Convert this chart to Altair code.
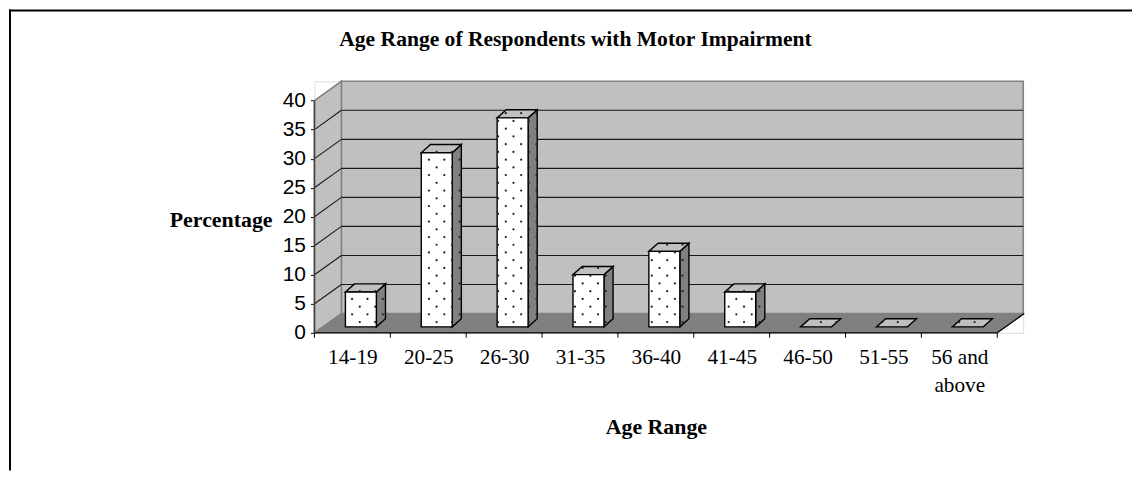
import json
import altair as alt
import pandas as pd

# ---- chart values
chart_title = "Age Range of Respondents with Motor Impairment"
categories = ["14-19", "20-25", "26-30", "31-35", "36-40", "41-45", "46-50", "51-55", "56 and|above"]
percentages = [6, 30, 36, 9, 13, 6, 0, 0, 0]
y_ticks = [0, 5, 10, 15, 20, 25, 30, 35, 40]

# ---- pseudo 3D geometry, in data units (1 x unit = one category, 1 y unit = 1 %)
X_MAX, Y_TOP = 9.342, 43.33
WALL_DX, WALL_DY = 0.355, 3.33
BAR_L, BAR_R, BAR_B = 0.408, 0.816, 1.03
BAR_DX, BAR_DY = 0.12, 1.4
PAT_X, PAT_Y = 0.2026, 2.665
PAT_X0, PAT_Y0 = 0.496, 5.846

W, H = 710, 252
FONT_S = "Liberation Serif"
FONT_A = "Liberation Sans"

xs = alt.Scale(domain=[0, X_MAX], nice=False, zero=False)
ys = alt.Scale(domain=[0, Y_TOP], nice=False, zero=False)
labels_js = json.dumps(categories)
x_axis = alt.Axis(
    values=[k + 0.5 for k in range(len(categories))],
    labelExpr=f"split({labels_js}[floor(datum.value)], '|')",
    domain=False, ticks=False, grid=False, labelOverlap=False, labelFlush=False,
    labelPadding=14, labelFont=FONT_S, labelFontSize=21.3, labelColor="black",
    labelLineHeight=28, labelBaseline="top",
    titleFont=FONT_S, titleFontSize=21.9, titleFontWeight="bold", titleColor="black",
    titleX=342, titleY=94, titleAnchor="middle", titleBaseline="middle",
)
y_axis = alt.Axis(
    values=y_ticks, domain=False, grid=False, tickSize=4, tickColor="black",
    tickWidth=1, labelPadding=5, labelFont=FONT_A, labelFontSize=21, labelColor="black",
    titleFont=FONT_S, titleFontSize=21.9, titleFontWeight="bold", titleColor="black",
    titleAngle=0, titleX=-42.5, titleY=138, titleAlign="right", titleBaseline="middle",
)
X = alt.X("x:Q", scale=xs, axis=x_axis, title="Age Range")
Y = alt.Y("y:Q", scale=ys, axis=y_axis, title="Percentage", stack=None)
X2 = alt.X2("x2:Q")
Y2 = alt.Y2("y2:Q")

# ---- tables for the faces
front, side, top = [], [], []
dots_front, dots_side, dots_top = [], [], []
grid_pts = []
n_c = int(X_MAX / PAT_X) + 3
n_r = int(Y_TOP / (PAT_Y / 2)) + 3
for j in range(-4, n_r):
    for i in range(-4, n_c):
        shift = PAT_X / 2 if j % 2 else 0
        grid_pts.append((PAT_X0 + i * PAT_X + shift, PAT_Y0 + (j - 2) * PAT_Y / 2))

for k, v in enumerate(percentages):
    l, r, b, t = k + BAR_L, k + BAR_R, BAR_B, BAR_B + v
    if v > 0:
        front.append(dict(x=l, x2=r, y=b, y2=t))
        side += [dict(b=k, x=r, y=t, y2=b), dict(b=k, x=r + BAR_DX, y=t + BAR_DY, y2=b + BAR_DY)]
    top += [dict(b=k, y=t, x=l, x2=r), dict(b=k, y=t + BAR_DY, x=l + BAR_DX, x2=r + BAR_DX)]
    for px, py in grid_pts:
        if v > 0 and l < px < r and b < py < t:
            dots_front.append(dict(x=px, y=py))
        if v > 0 and r < px < r + BAR_DX:
            f = (px - r) / BAR_DX * BAR_DY
            if b + f < py < t + f:
                dots_side.append(dict(x=px, y=py))
        if t < py < t + BAR_DY:
            f = (py - t) / BAR_DY * BAR_DX
            if l + f < px < r + f:
                dots_top.append(dict(x=px, y=py))

# ---- walls and floor
back_wall = (
    alt.Chart(pd.DataFrame([dict(x=WALL_DX, x2=X_MAX, y=WALL_DY, y2=Y_TOP)]))
    .mark_rect(fill="#c0c0c0", stroke="#808080", strokeWidth=1.5)
    .encode(x=X, x2=X2, y=Y, y2=Y2)
)
left_wall = (
    alt.Chart(pd.DataFrame([dict(x=0, y=40, y2=0), dict(x=WALL_DX, y=40 + WALL_DY, y2=WALL_DY)]))
    .mark_area(orient="vertical", fill="#c0c0c0", stroke="#808080", strokeWidth=1.5)
    .encode(x=X, y=Y, y2=Y2)
)
floor = (
    alt.Chart(pd.DataFrame([dict(y=0, x=0, x2=9), dict(y=WALL_DY, x=WALL_DX, x2=9 + WALL_DX)]))
    .mark_area(orient="horizontal", fill="#808080", stroke="#808080", strokeWidth=1)
    .encode(x=X, x2=X2, y=Y)
)
back_lines = (
    alt.Chart(pd.DataFrame([dict(x=WALL_DX, x2=X_MAX, y=v + WALL_DY) for v in y_ticks[1:-1]]))
    .mark_rule(color="#1a1a1a", strokeWidth=1.1)
    .encode(x=X, x2=X2, y=Y)
)
diag_rows = []
for v in y_ticks[1:-1]:
    diag_rows += [dict(g=v, x=0, y=v), dict(g=v, x=WALL_DX, y=v + WALL_DY)]
left_lines = (
    alt.Chart(pd.DataFrame(diag_rows))
    .mark_line(color="#1a1a1a", strokeWidth=1.1)
    .encode(x=X, y=Y, detail="g:N")
)
right_edge = (
    alt.Chart(pd.DataFrame([dict(x=9, y=0), dict(x=9 + WALL_DX, y=WALL_DY)]))
    .mark_line(color="black", strokeWidth=1.3)
    .encode(x=X, y=Y)
)
y_line = (
    alt.Chart(pd.DataFrame([dict(x=0, y=0, y2=40)]))
    .mark_rule(color="#404040", strokeWidth=1.5)
    .encode(x=X, y=Y, y2=Y2)
)
x_line = (
    alt.Chart(pd.DataFrame([dict(x=0, x2=9, y=0)]))
    .mark_rule(color="#202020", strokeWidth=1.5)
    .encode(x=X, x2=X2, y=Y)
)
x_ticks = (
    alt.Chart(pd.DataFrame(dict(x=list(range(len(categories) + 1)))))
    .mark_rule(color="black", strokeWidth=1)
    .encode(x=X, y=alt.value(H), y2=alt.value(H + 5))
)

# ---- bars
edge = dict(stroke="black", strokeWidth=1.4)
side_faces = (
    alt.Chart(pd.DataFrame(side))
    .mark_area(orient="vertical", fill="#808080", **edge)
    .encode(x=X, y=Y, y2=Y2, detail="b:N")
)
top_faces = (
    alt.Chart(pd.DataFrame(top))
    .mark_area(orient="horizontal", fill="#c0c0c0", **edge)
    .encode(x=X, x2=X2, y=Y, detail="b:N")
)
front_faces = (
    alt.Chart(pd.DataFrame(front))
    .mark_rect(fill="white", **edge)
    .encode(x=X, x2=X2, y=Y, y2=Y2)
)
def dots(rows):
    return (
        alt.Chart(pd.DataFrame(rows))
        .mark_point(filled=True, color="#222222", size=5, opacity=1)
        .encode(x=X, y=Y)
    )

# ---- title and the frame round the picture (the frame also fixes the page bounds)
title_layer = alt.Chart(pd.DataFrame(dict(t=[chart_title]))).mark_text(
    font=FONT_S, fontSize=21.6, fontWeight="bold", color="black", align="center", baseline="middle"
).encode(x=alt.value(261.5), y=alt.value(-41), text="t:N")
frame_top = alt.Chart(pd.DataFrame(dict(a=[0]))).mark_rule(color="black", strokeWidth=2).encode(
    x=alt.value(-306), x2=alt.value(819), y=alt.value(-71)
)
frame_left = alt.Chart(pd.DataFrame(dict(a=[0]))).mark_rule(color="black", strokeWidth=2).encode(
    x=alt.value(-305), y=alt.value(-72), y2=alt.value(390)
)

chart = (
    alt.layer(
        back_wall, left_wall, floor, back_lines, left_lines, right_edge, y_line, x_line, x_ticks,
        side_faces, top_faces, front_faces, dots(dots_side), dots(dots_top), dots(dots_front),
        title_layer, frame_top, frame_left,
    )
    .properties(width=W, height=H, padding=0)
    .configure_view(stroke=None)
    .configure(background="white")
)
chart.save("out.html", embed_options={"renderer": "svg", "actions": False})
